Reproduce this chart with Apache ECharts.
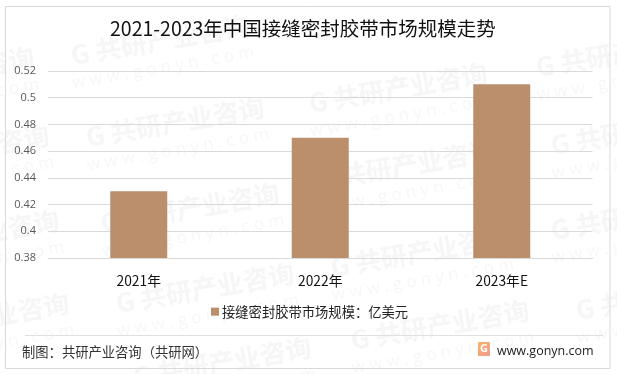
<!DOCTYPE html>
<html><head><meta charset="utf-8">
<style>html,body{margin:0;padding:0;background:#fff}#c{width:617px;height:374px}</style>
<script src="https://cdn.jsdelivr.net/npm/echarts@6/dist/echarts.min.js"></script>
</head><body><div id="c"></div>
<script>
const categories = ['2021年','2022年','2023年E'];
const seriesName = '接缝密封胶带市场规模\uFF1A亿美元';
const values = [0.43,0.47,0.51];
const titleText = '2021-2023年中国接缝密封胶带市场规模走势';
const sourceText = '制图\uFF1A共研产业咨询\uFF08共研网\uFF09';
const siteText = 'www.gonyn.com';
const CJK = '"Noto Sans CJK SC","Open Sans",sans-serif';
const wmSpots = [[160,40],[175,122],[398,88],[625,52],[640,130],[405,165],[-55,72],[-40,150],
  [190,208],[205,288],[420,252],[440,325],[665,295],[-20,318],[222,362],[640,215],[-30,235]];
const wm = [];
wmSpots.forEach(([x,y])=>{
  wm.push({type:'text',x:x,y:y,rotation:0.17,z:-2,silent:true,
    style:{text:'G 共研产业咨询',x:0,y:0,align:'center',verticalAlign:'middle',
      font:'bold 26px '+CJK,fill:'#f6f6f6'}});
  wm.push({type:'text',x:x+3,y:y+28,rotation:0.17,z:-2,silent:true,
    style:{text:'w w w . g o n y n . c o m',x:0,y:0,align:'center',verticalAlign:'middle',
      font:'17px "Open Sans",sans-serif',fill:'#f7f7f7'}});
});
const chart = echarts.init(document.getElementById('c'),null,{renderer:'canvas'});
chart.setOption({
  animation:false,
  backgroundColor:'#fff',
  title:{text:titleText,left:110,top:19,padding:0,itemGap:0,
    textStyle:{fontFamily:CJK,fontSize:19.5,fontWeight:'normal',color:'#111'}},
  legend:{data:[seriesName],left:211,top:305,padding:0,itemWidth:8,itemHeight:8,itemGap:3,icon:'rect',
    textStyle:{fontFamily:CJK,fontSize:13.3,color:'#222',padding:[0,0,0,-2]}},
  grid:{left:48,right:24.5,top:71,bottom:116},
  xAxis:{type:'category',data:categories,
    axisLine:{lineStyle:{color:'#d9d9d9',width:1}},axisTick:{show:false},
    axisLabel:{fontFamily:CJK,fontSize:13.8,color:'#111',margin:16}},
  yAxis:{type:'value',min:0.38,max:0.52,interval:0.02,
    axisLine:{show:false},axisTick:{show:false},
    splitLine:{lineStyle:{color:'#d9d9d9',width:1}},
    axisLabel:{fontFamily:'"Open Sans",sans-serif',fontSize:11,color:'#595959',margin:12}},
  series:[{name:seriesName,type:'bar',data:values,barWidth:57,itemStyle:{color:'#bb8e6c'}}],
  graphic:wm.concat([
    {type:'rect',z:10,silent:true,shape:{x:5.5,y:6.5,width:604.5,height:362},style:{fill:'none',stroke:'#d9d9d9',lineWidth:1}},
    {type:'line',z:10,silent:true,shape:{x1:25,y1:335.5,x2:603,y2:335.5},style:{stroke:'#e0e0e0',lineWidth:1}},
    {type:'text',z:10,x:22,y:352,style:{text:sourceText,verticalAlign:'middle',font:'13.3px '+CJK,fill:'#333'}},
    {type:'text',z:10,x:497,y:351,style:{text:siteText,verticalAlign:'middle',font:'12.5px "Open Sans",sans-serif',fill:'#222'}},
    {type:'rect',z:10,silent:true,shape:{x:478,y:342,width:12,height:14,r:1},
      style:{fill:{type:'linear',x:0,y:0,x2:1,y2:1,colorStops:[{offset:0,color:'#f7b267'},{offset:1,color:'#f29a8e'}]}}},
    {type:'text',z:11,x:484,y:349,style:{text:'G',align:'center',verticalAlign:'middle',font:'bold 11px "Open Sans",sans-serif',fill:'#fff'}}
  ])
});
</script></body></html>
